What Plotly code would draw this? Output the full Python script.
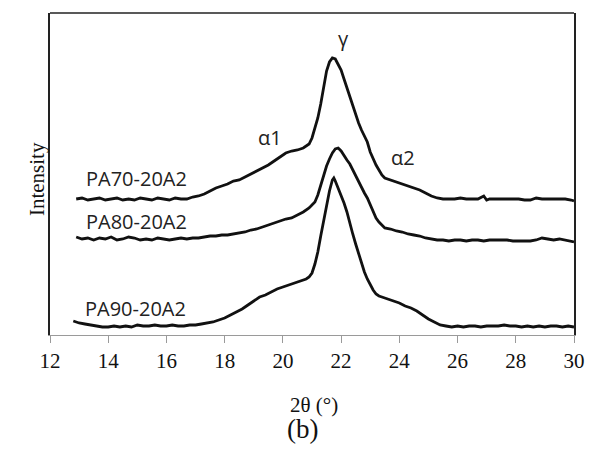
import plotly.graph_objects as go

# 2θ positions (degrees) and intensities (arbitrary units) for each sample
theta_70 = [12.9, 13.1, 13.3, 13.5, 13.7, 13.9, 14.1, 14.3, 14.5, 14.7, 14.9, 15.1, 15.3, 15.5,
            15.7, 15.9, 16.1, 16.3, 16.5, 16.7, 16.9, 17.1, 17.3, 17.5, 17.7, 17.9, 18.1, 18.3,
            18.5, 18.7, 18.9, 19.1, 19.3, 19.5, 19.7, 19.9, 20.1, 20.3, 20.5, 20.7, 20.9, 21.0,
            21.1, 21.2, 21.3, 21.4, 21.5, 21.6, 21.7, 21.8, 21.9, 22.0, 22.1, 22.2, 22.3, 22.4,
            22.5, 22.6, 22.7, 22.8, 22.9, 23.0, 23.1, 23.2, 23.3, 23.4, 23.5, 23.7, 23.9, 24.1,
            24.3, 24.5, 24.7, 24.9, 25.1, 25.3, 25.5, 25.7, 25.9, 26.1, 26.3, 26.5, 26.7, 26.9,
            27.0, 27.1, 27.3, 27.5, 27.7, 27.9, 28.1, 28.3, 28.5, 28.7, 28.9, 29.1, 29.3, 29.5,
            29.7, 29.9, 30.0]
intensity_70 = [137, 138, 136, 137, 138, 136, 137, 138, 136, 137, 136, 138, 137, 136,
                138, 137, 136, 138, 137, 137, 139, 140, 142, 145, 148, 150, 152, 155,
                156, 159, 162, 165, 168, 171, 175, 179, 183, 185, 186, 188, 192, 198,
                207, 218, 232, 250, 265, 274, 278, 277, 272, 266, 257, 248, 238, 231,
                222, 213, 206, 200, 194, 184, 177, 171, 166, 161, 158, 156, 154, 152,
                150, 148, 146, 143, 140, 138, 137, 137, 137, 138, 137, 137, 137, 140,
                136, 137, 137, 137, 137, 137, 137, 136, 136, 138, 137, 137, 137, 137,
                137, 136, 135]

theta_80 = [12.9, 13.1, 13.3, 13.5, 13.7, 13.9, 14.1, 14.3, 14.5, 14.7, 14.9, 15.1, 15.3, 15.5,
            15.7, 15.9, 16.1, 16.3, 16.5, 16.7, 16.9, 17.1, 17.3, 17.5, 17.7, 17.9, 18.1, 18.3,
            18.5, 18.7, 18.9, 19.1, 19.3, 19.5, 19.7, 19.9, 20.1, 20.3, 20.5, 20.7, 20.9, 21.1,
            21.2, 21.3, 21.4, 21.5, 21.6, 21.7, 21.8, 21.9, 22.0, 22.1, 22.2, 22.3, 22.4, 22.5,
            22.6, 22.7, 22.8, 22.9, 23.0, 23.1, 23.2, 23.3, 23.5, 23.7, 23.9, 24.1, 24.3, 24.5,
            24.7, 24.9, 25.1, 25.3, 25.5, 25.7, 25.9, 26.1, 26.3, 26.5, 26.7, 26.9, 27.1, 27.3,
            27.5, 27.7, 27.9, 28.1, 28.3, 28.5, 28.7, 28.9, 29.1, 29.3, 29.5, 29.7, 29.9, 30.0]
intensity_80 = [99, 97, 98, 96, 98, 97, 99, 96, 97, 99, 98, 96, 97, 96,
                98, 97, 96, 97, 98, 97, 98, 98, 99, 100, 100, 101, 101, 102,
                103, 104, 106, 107, 109, 111, 113, 115, 117, 118, 121, 124, 128, 134,
                141, 151, 162, 170, 177, 183, 187, 188, 185, 180, 176, 172, 166, 160,
                154, 148, 143, 138, 131, 124, 118, 114, 108, 107, 105, 104, 102, 101,
                100, 98, 97, 96, 96, 95, 96, 96, 95, 96, 96, 95, 96, 96,
                96, 96, 95, 95, 95, 95, 96, 98, 97, 96, 97, 96, 95, 94]

theta_90 = [12.8, 13.0, 13.2, 13.4, 13.6, 13.8, 14.0, 14.2, 14.4, 14.6, 14.8, 15.0, 15.2, 15.4,
            15.6, 15.8, 16.0, 16.2, 16.4, 16.6, 16.8, 17.0, 17.2, 17.4, 17.6, 17.8, 18.0, 18.2,
            18.4, 18.6, 18.8, 19.0, 19.2, 19.4, 19.6, 19.8, 20.0, 20.2, 20.4, 20.6, 20.8, 20.9,
            21.0, 21.1, 21.2, 21.3, 21.4, 21.5, 21.6, 21.7, 21.75, 21.8, 21.9, 22.0, 22.1, 22.2,
            22.3, 22.4, 22.5, 22.6, 22.7, 22.8, 22.9, 23.0, 23.1, 23.2, 23.3, 23.4, 23.6, 23.8,
            24.0, 24.2, 24.4, 24.6, 24.8, 25.0, 25.2, 25.4, 25.6, 25.8, 26.0, 26.2, 26.4, 26.6,
            26.8, 27.0, 27.2, 27.4, 27.6, 27.8, 28.0, 28.2, 28.4, 28.6, 28.8, 29.0, 29.2, 29.4,
            29.6, 29.8, 30.0]
intensity_90 = [15, 13, 12, 11, 10, 9, 9, 10, 9, 10, 9, 11, 10, 10,
                11, 10, 10, 11, 10, 10, 11, 11, 12, 13, 14, 16, 18, 21,
                24, 27, 31, 35, 39, 41, 44, 47, 49, 51, 53, 55, 57, 59,
                63, 72, 84, 100, 115, 129, 145, 156, 158, 155, 148, 141, 133, 124,
                112, 102, 92, 82, 72, 64, 57, 51, 46, 42, 40, 39, 37, 35,
                33, 30, 28, 25, 21, 17, 14, 11, 10, 9, 10, 9, 10, 10,
                9, 10, 10, 10, 11, 10, 10, 9, 10, 9, 10, 9, 10, 10,
                9, 10, 9]

sample_names = ["PA70-20A2", "PA80-20A2", "PA90-20A2"]
sample_label_pos = [(14.96, 158), (14.96, 115), (14.93, 28)]
peak_names = ["α1", "γ", "α2"]
peak_label_pos = [(19.57, 199), (22.09, 298), (24.13, 179)]
x_ticks = [12, 14, 16, 18, 20, 22, 24, 26, 28, 30]
x_tick_text = [str(t) for t in x_ticks]

fig = go.Figure()
for xs, ys, name in zip([theta_70, theta_80, theta_90],
                        [intensity_70, intensity_80, intensity_90], sample_names):
    fig.add_trace(go.Scatter(x=xs, y=ys, mode="lines", name=name,
                             line=dict(color="#111111", width=2.8)))

label_font = dict(family="Open Sans", size=20, color="#222222")
annotations = []
for name, (lx, ly) in zip(sample_names, sample_label_pos):
    annotations.append(dict(x=lx, y=ly, xref="x", yref="y", text=name, showarrow=False,
                            font=label_font, xanchor="center", yanchor="middle"))
for name, (lx, ly) in zip(peak_names, peak_label_pos):
    annotations.append(dict(x=lx, y=ly, xref="x", yref="y", text=name, showarrow=False,
                            font=label_font, xanchor="center", yanchor="middle"))

serif = "Liberation Serif"
annotations += [
    dict(x=-0.051, y=0.485, xref="paper", yref="paper", text="Intensity", textangle=-90,
         showarrow=False, font=dict(family=serif, size=21, color="#111111")),
    dict(x=0.504, y=-0.261, xref="paper", yref="paper", text="2θ (°)",
         showarrow=False, font=dict(family=serif, size=21, color="#111111")),
    dict(x=0.481, y=-0.345, xref="paper", yref="paper", text="(b)",
         showarrow=False, font=dict(family=serif, size=27, color="#111111")),
]

fig.update_layout(
    width=597, height=464,
    margin=dict(l=50, r=17, t=13, b=129),
    paper_bgcolor="white", plot_bgcolor="white",
    showlegend=False,
    font=dict(family=serif),
    annotations=annotations,
    shapes=[dict(type="line", xref="paper", yref="paper", x0=0, x1=1, y0=1, y1=1,
                 line=dict(color="#222222", width=1.6))],
    xaxis=dict(range=[12, 30], tickmode="array", tickvals=x_ticks, ticktext=x_tick_text,
               ticks="outside", ticklen=7,
               tickcolor="#9a9a9a", tickwidth=1.2, showline=True, linecolor="#9a9a9a",
               linewidth=1.2, showgrid=False, zeroline=False,
               tickfont=dict(family=serif, size=21, color="#111111")),
    yaxis=dict(range=[1, 323], showticklabels=False, ticks="", showgrid=False,
               zeroline=False, showline=True, linecolor="#222222", linewidth=1.6,
               mirror=True),
)

fig.write_html("out.html")
